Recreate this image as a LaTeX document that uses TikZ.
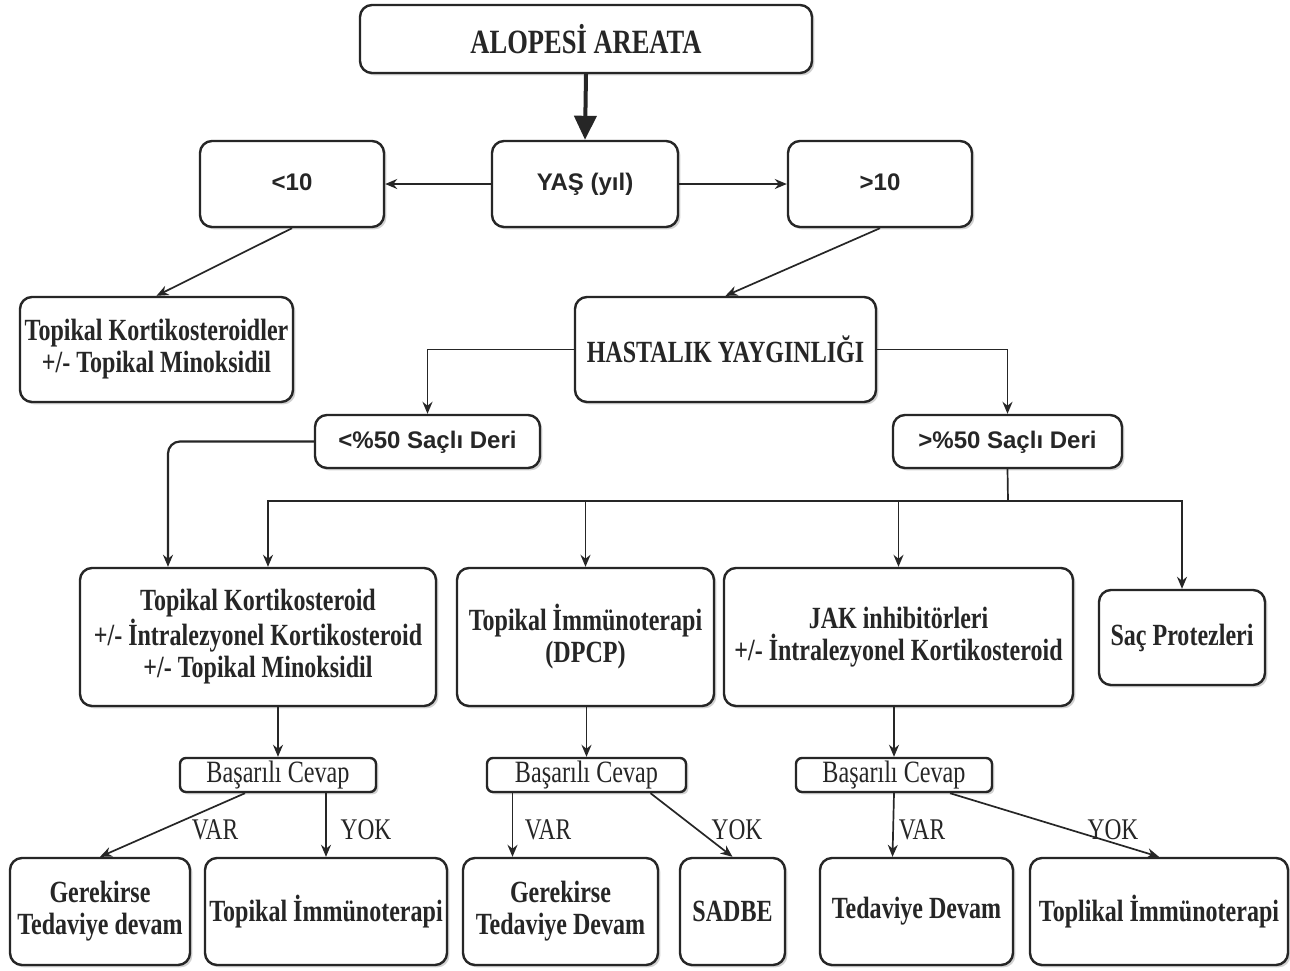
\documentclass[tikz,border=0pt]{standalone}
\usepackage{fontspec}
\setmainfont{Liberation Serif}[FakeStretch=0.78]
\newfontfamily\sansb{Liberation Sans}[FakeStretch=1.0]
\usetikzlibrary{arrows.meta,shadows,calc}
\newcommand\mybox[7]{\node[#1, minimum width={(#4-#2)*0.5pt}, minimum height={(#5-#3)*0.5pt}] (#6) at ({(#2+#4)/2},{(#3+#5)/2}) {#7};}
\tikzset{
  boxbase/.style={draw=black!85, line width=1.2pt, rounded corners=6pt, fill=white, inner sep=0pt, align=center, text=black!85,
    drop shadow={shadow xshift=1.2pt, shadow yshift=-1.2pt, fill=black, opacity=0.18}},
  serifbox/.style={boxbase, font=\bfseries\fontsize{15.4}{16}\selectfont},
  titlebox/.style={boxbase, font=\bfseries\fontsize{17}{18}\selectfont},
  sansbox/.style={boxbase, font=\sansb\bfseries\fontsize{12}{14}\selectfont, text height=9pt, text depth=2.5pt},
  smallbox/.style={boxbase, rounded corners=3pt, font=\fontsize{15.5}{16}\selectfont},
  arr/.style={draw=black!85, line width=0.85pt, -{Stealth[length=6pt,width=5pt]}},
  bigarr/.style={draw=black!85, line width=2pt, -{Triangle[length=12pt,width=11pt]}},
  lbl/.style={font=\fontsize{15}{16}\selectfont, text=black!85, inner sep=0pt},
}
\begin{document}
\begin{tikzpicture}[x=0.5pt,y=-0.5pt]
\useasboundingbox[fill=white] (0,0) rectangle (1290,970);
% top
\mybox{titlebox}{360}{5}{812}{73}{alo}{ALOPES\.I AREATA}
\mybox{sansbox}{200}{141}{384}{227}{lt}{<10}
\mybox{sansbox}{492}{141}{678}{227}{yas}{YAŞ (yıl)}
\mybox{sansbox}{788}{141}{972}{227}{gt}{>10}
\mybox{serifbox}{20}{297}{293}{402}{tkm}{Topikal Kortikosteroidler\\+/- Topikal Minoksidil}
\mybox{serifbox}{575}{297}{876}{402}{hast}{HASTALIK YAYGINLIĞI}
\mybox{sansbox}{315}{415}{540}{468}{lt50}{<\%50 Saçlı Deri}
\mybox{sansbox}{893}{415}{1122}{468}{gt50}{>\%50 Saçlı Deri}
% middle
\mybox{serifbox}{80}{568}{436}{706}{tk}{Topikal Kortikosteroid\\+/- İntralezyonel Kortikosteroid\\+/- Topikal Minoksidil}
\mybox{serifbox}{457}{568}{714}{706}{ti}{Topikal İmmünoterapi\\(DPCP)}
\mybox{serifbox}{724}{568}{1073}{706}{jak}{JAK inhibitörleri\\+/- İntralezyonel Kortikosteroid}
\mybox{serifbox}{1099}{590}{1265}{685}{sac}{Saç Protezleri}
% response boxes
\mybox{smallbox}{180}{758}{376}{792}{bca}{Başarılı Cevap}
\mybox{smallbox}{487}{758}{686}{792}{bcb}{Başarılı Cevap}
\mybox{smallbox}{796}{758}{992}{792}{bcc}{Başarılı Cevap}
% bottom
\mybox{serifbox}{10}{858}{190}{965}{ga}{Gerekirse\\Tedaviye devam}
\mybox{serifbox}{205}{858}{447}{965}{tia}{Topikal İmmünoterapi}
\mybox{serifbox}{463}{858}{658}{965}{gb}{Gerekirse\\Tedaviye Devam}
\mybox{serifbox}{680}{858}{785}{965}{sad}{SADBE}
\mybox{serifbox}{820}{858}{1013}{965}{td}{Tedaviye Devam}
\mybox{serifbox}{1030}{858}{1288}{965}{tic}{Toplikal İmmünoterapi}
% connectors
\draw[bigarr] (alo.south) -- (yas.north);
\draw[arr] (yas.west) -- (lt.east);
\draw[arr] (yas.east) -- (gt.west);
\draw[arr] (lt.south) -- (tkm.north);
\draw[arr] (gt.south) -- (hast.north);
\draw[arr] (hast.west) -| (lt50.north);
\draw[arr] (hast.east) -| (gt50.north);
\draw[arr, line width=1.1pt, rounded corners=6pt] (lt50.west) -| ([xshift=-45pt]tk.north);
\coordinate (br) at (1008,501);
\draw[draw=black!85, line width=0.85pt] (gt50.south) -- (br);
\draw[arr] (br) -| ([xshift=5pt]tk.north);
\draw[arr] (br) -| (sac.north);
\draw[arr] (ti.north |- br) -- (ti.north);
\draw[arr] (jak.north |- br) -- (jak.north);
\draw[arr] (bca.north |- tk.south) -- (bca.north);
\draw[arr] (bcb.north |- ti.south) -- (bcb.north);
\draw[arr] (bcc.north |- jak.south) -- (bcc.north);
\draw[arr] ([xshift=-16.5pt]bca.south) -- (ga.north);
\draw[arr] (tia.north |- bca.south) -- (tia.north);
\draw[arr] ([xshift=-37pt]bcb.south) -- ([xshift=-24pt]gb.north);
\draw[arr] ([xshift=32pt]bcb.south) -- (sad.north);
\draw[arr] (bcc.south) -- ([xshift=-12pt]td.north);
\draw[arr] ([xshift=28pt]bcc.south) -- (tic.north);
% labels
\node[lbl] (l1) at (215,830) {VAR};
\node[lbl] (l2) at (366,830) {YOK};
\node[lbl] (l3) at (548,830) {VAR};
\node[lbl] (l4) at (737,830) {YOK};
\node[lbl] (l5) at (922,830) {VAR};
\node[lbl] (l6) at (1113,830) {YOK};
\end{tikzpicture}
\end{document}
